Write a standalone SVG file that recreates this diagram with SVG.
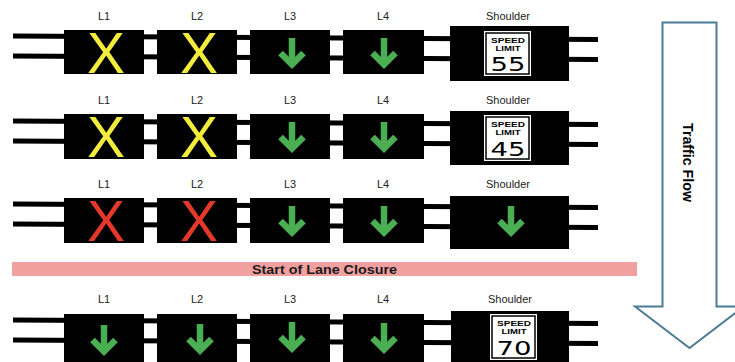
<svg xmlns="http://www.w3.org/2000/svg" width="735" height="362" viewBox="0 0 735 362">
  <defs>
    <style>
      .rail { stroke: #000; stroke-width: 5; }
      .box { fill: #000; }
      .lbl { font-family: "Liberation Sans", Arial, sans-serif; font-size: 11px; fill: #222; text-anchor: middle; }
      .xmark { font-family: "Liberation Sans", Arial, sans-serif; font-size: 57px; text-anchor: middle; }
      .amber { fill: #f3ec3c; }
      .red { fill: #e4392a; }
      .go { fill: none; stroke: #4bae52; stroke-width: 6.5; stroke-linejoin: miter; }
      .sign { fill: #fff; stroke: #000; stroke-width: 1; }
      .signin { fill: none; stroke: #000; stroke-width: 1.5; }
      .st { font-family: "Liberation Sans", Arial, sans-serif; font-weight: bold; font-size: 8px; fill: #000; text-anchor: middle; }
      .num { font-family: "DejaVu Sans", "Liberation Sans", sans-serif; font-weight: normal; font-size: 19px; fill: #000; text-anchor: middle; }
    </style>
    <!-- green down arrow, origin at the top centre of the glyph -->
    <g id="downArrow">
      <path class="go" d="M0,0 V27"/>
      <path class="go" d="M-11.5,15 L0,26.5 L11.5,15"/>
    </g>
  </defs>

  <rect width="735" height="362" fill="#fff"/>

  <!-- rails behind each gantry row -->
  <g id="connectors">
    <line class="rail" x1="13" y1="36" x2="598" y2="39.5"/>
    <line class="rail" x1="13" y1="56" x2="598" y2="59.5"/>
    <line class="rail" x1="13" y1="121" x2="598" y2="124.5"/>
    <line class="rail" x1="13" y1="141" x2="598" y2="144.5"/>
    <line class="rail" x1="13" y1="204" x2="598" y2="207.5"/>
    <line class="rail" x1="13" y1="224" x2="598" y2="227.5"/>
    <line class="rail" x1="13" y1="320" x2="598" y2="323.5"/>
    <line class="rail" x1="13" y1="340" x2="598" y2="343.5"/>
  </g>

  <!-- row 1 -->
  <g id="row1-L1">
    <text class="lbl" x="104" y="20">L1</text>
    <rect class="box" x="64" y="30" width="80" height="44"/>
    <text class="xmark amber" x="106" y="73">X</text>
  </g>
  <g id="row1-L2">
    <text class="lbl" x="197" y="20">L2</text>
    <rect class="box" x="157" y="30" width="80" height="44"/>
    <text class="xmark amber" x="199" y="73">X</text>
  </g>
  <g id="row1-L3">
    <text class="lbl" x="290" y="20">L3</text>
    <rect class="box" x="250" y="30" width="80" height="44"/>
    <use href="#downArrow" x="292" y="38"/>
  </g>
  <g id="row1-L4">
    <text class="lbl" x="383" y="20">L4</text>
    <rect class="box" x="343" y="30" width="81" height="44"/>
    <use href="#downArrow" x="384" y="38"/>
  </g>
  <g id="row1-shoulder">
    <text class="lbl" x="508" y="20">Shoulder</text>
    <rect class="box" x="450" y="26" width="119" height="55"/>
    <rect class="sign" x="483.5" y="30.5" width="48" height="46"/>
    <rect class="signin" x="486" y="33" width="43" height="41"/>
    <text class="st" x="508" y="42.5" textLength="34" lengthAdjust="spacingAndGlyphs">SPEED</text>
    <text class="st" x="508" y="51" textLength="25" lengthAdjust="spacingAndGlyphs">LIMIT</text>
    <text class="num" x="508" y="71" textLength="35" lengthAdjust="spacingAndGlyphs">55</text>
  </g>

  <!-- row 2 -->
  <g id="row2-L1">
    <text class="lbl" x="104" y="104">L1</text>
    <rect class="box" x="64" y="114" width="80" height="45"/>
    <text class="xmark amber" x="106" y="157">X</text>
  </g>
  <g id="row2-L2">
    <text class="lbl" x="197" y="104">L2</text>
    <rect class="box" x="157" y="114" width="80" height="45"/>
    <text class="xmark amber" x="199" y="157">X</text>
  </g>
  <g id="row2-L3">
    <text class="lbl" x="290" y="104">L3</text>
    <rect class="box" x="250" y="114" width="80" height="45"/>
    <use href="#downArrow" x="292" y="122"/>
  </g>
  <g id="row2-L4">
    <text class="lbl" x="383" y="104">L4</text>
    <rect class="box" x="343" y="114" width="81" height="45"/>
    <use href="#downArrow" x="384" y="122"/>
  </g>
  <g id="row2-shoulder">
    <text class="lbl" x="508" y="104">Shoulder</text>
    <rect class="box" x="450" y="111" width="119" height="54"/>
    <rect class="sign" x="483.5" y="114.5" width="48" height="47"/>
    <rect class="signin" x="486" y="117" width="43" height="42"/>
    <text class="st" x="508" y="126.5" textLength="34" lengthAdjust="spacingAndGlyphs">SPEED</text>
    <text class="st" x="508" y="135" textLength="25" lengthAdjust="spacingAndGlyphs">LIMIT</text>
    <text class="num" x="508" y="155.5" textLength="35" lengthAdjust="spacingAndGlyphs">45</text>
  </g>

  <!-- row 3 -->
  <g id="row3-L1">
    <text class="lbl" x="104" y="188">L1</text>
    <rect class="box" x="64" y="198" width="80" height="45"/>
    <text class="xmark red" x="106" y="241">X</text>
  </g>
  <g id="row3-L2">
    <text class="lbl" x="197" y="188">L2</text>
    <rect class="box" x="157" y="198" width="80" height="45"/>
    <text class="xmark red" x="199" y="241">X</text>
  </g>
  <g id="row3-L3">
    <text class="lbl" x="290" y="188">L3</text>
    <rect class="box" x="250" y="198" width="80" height="45"/>
    <use href="#downArrow" x="292" y="206"/>
  </g>
  <g id="row3-L4">
    <text class="lbl" x="383" y="188">L4</text>
    <rect class="box" x="343" y="198" width="81" height="45"/>
    <use href="#downArrow" x="384" y="206"/>
  </g>
  <g id="row3-shoulder">
    <text class="lbl" x="508" y="188">Shoulder</text>
    <rect class="box" x="450" y="196" width="119" height="53"/>
    <use href="#downArrow" x="511" y="206"/>
  </g>

  <!-- closure banner -->
  <g id="closure-banner">
    <rect x="12" y="262" width="625" height="14" fill="#f1a0a0"/>
    <text x="324.5" y="273.5" font-family="'Liberation Sans', Arial, sans-serif" font-size="12" font-weight="bold" fill="#1a1a1a" text-anchor="middle" textLength="145" lengthAdjust="spacingAndGlyphs">Start of Lane Closure</text>
  </g>

  <!-- row 4 -->
  <g id="row4-L1">
    <text class="lbl" x="104" y="303">L1</text>
    <rect class="box" x="64" y="314" width="80" height="48"/>
    <use href="#downArrow" x="104" y="325"/>
  </g>
  <g id="row4-L2">
    <text class="lbl" x="197" y="303">L2</text>
    <rect class="box" x="157" y="314" width="80" height="48"/>
    <use href="#downArrow" x="200" y="324"/>
  </g>
  <g id="row4-L3">
    <text class="lbl" x="290" y="303">L3</text>
    <rect class="box" x="250" y="314" width="80" height="48"/>
    <use href="#downArrow" x="292" y="322"/>
  </g>
  <g id="row4-L4">
    <text class="lbl" x="383" y="303">L4</text>
    <rect class="box" x="343" y="314" width="81" height="48"/>
    <use href="#downArrow" x="384" y="323"/>
  </g>
  <g id="row4-shoulder">
    <text class="lbl" x="510" y="303">Shoulder</text>
    <rect class="box" x="451" y="311" width="118" height="51"/>
    <rect class="sign" x="489.5" y="313.5" width="48" height="47"/>
    <rect class="signin" x="492" y="316" width="43" height="42"/>
    <text class="st" x="514" y="325.5" textLength="34" lengthAdjust="spacingAndGlyphs">SPEED</text>
    <text class="st" x="514" y="334" textLength="25" lengthAdjust="spacingAndGlyphs">LIMIT</text>
    <text class="num" x="514" y="354.5" textLength="35" lengthAdjust="spacingAndGlyphs">70</text>
  </g>

  <!-- traffic flow direction -->
  <g id="traffic-flow">
    <path d="M662.5,22.5 H716.5 V306.5 H744 L689.5,348 L635,306.5 H662.5 Z" fill="#fff" stroke="#4b7b95" stroke-width="2"/>
    <text transform="translate(689,162.5) rotate(90)" x="0" y="6" font-family="'Liberation Sans', Arial, sans-serif" font-size="15" font-weight="bold" fill="#000" text-anchor="middle" textLength="79" lengthAdjust="spacingAndGlyphs">Traffic Flow</text>
  </g>
</svg>
